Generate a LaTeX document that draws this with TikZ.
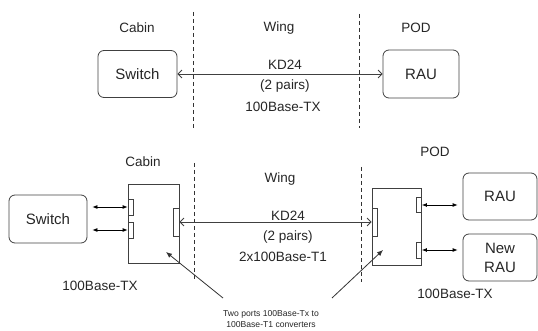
\documentclass[tikz,border=0pt]{standalone}
\usepackage{fontspec}
\setmainfont{Liberation Sans}
\usetikzlibrary{arrows.meta}

\begin{document}
\begin{tikzpicture}[x=1pt,y=-1pt,
    line width=0.8pt,
    lbl/.style={text=black!85,font=\fontsize{13.5}{16}\selectfont},
    unit/.style={draw=black!75,rounded corners=6pt,inner sep=0pt,text=black!85,
      align=center,font=\fontsize{15}{19}\selectfont},
    conv/.style={draw=black!75,inner sep=0pt},
    port/.style={draw=black!75,fill=white,inner sep=0pt,minimum width=5pt},
    sep/.style={black!80,dash pattern=on 4pt off 3pt},
    biglink/.style={black!75,{Straight Barb[length=4pt,width=8pt]}-{Straight Barb[length=4pt,width=8pt]}},
    shortlink/.style={black,{Latex[length=5pt,width=4pt]}-{Latex[length=5pt,width=4pt]}},
    ptr/.style={black!80,-{Latex[length=6pt,width=5pt]}}]
  \useasboundingbox (0,0) rectangle (538,331);
  % direct link
  \draw[sep] (193,12) -- (193,128);
  \draw[sep] (359,14) -- (359,128);
  \node[lbl] (cabinA) at (137,28) {Cabin};
  \node[lbl] (wingA) at (279,28) {Wing};
  \node[lbl] (podA) at (416,28) {POD};
  \node[unit,minimum width=79pt,minimum height=47pt] (swA) at (137.5,74) {Switch};
  \node[unit,minimum width=76pt,minimum height=48pt] (rauA) at (421,74) {RAU};
  \draw[biglink] (swA.east) -- (rauA.west);
  \node[lbl] (kdA) at (285,65) {KD24};
  \node[lbl] (pairA) at (285,86) {(2 pairs)};
  \node[lbl] (txA) at (283,107) {100Base-TX};
  % link through converters
  \draw[sep] (194,163) -- (194,281);
  \draw[sep] (361,167) -- (361,282);
  \node[lbl] (cabinB) at (143,162) {Cabin};
  \node[lbl] (wingB) at (280,179) {Wing};
  \node[lbl] (podB) at (435,152) {POD};
  \node[unit,minimum width=78pt,minimum height=48pt] (swB) at (48,219) {Switch};
  \node[conv,minimum width=51pt,minimum height=79pt] (cvA) at (153.5,223.5) {};
  \node[port,minimum height=16pt] (pa1) at (130.5,207) {};
  \node[port,minimum height=16pt] (pa2) at (130.5,230) {};
  \node[port,minimum width=6pt,minimum height=28pt] (pa3) at (176,222) {};
  \node[conv,minimum width=49pt,minimum height=77pt] (cvB) at (396.5,226.5) {};
  \node[port,minimum height=28pt] (pb1) at (374.5,222) {};
  \node[port,minimum height=15pt] (pb2) at (419,205) {};
  \node[port,minimum height=16pt] (pb3) at (419,250) {};
  \node[unit,minimum width=74pt,minimum height=47pt] (rauB) at (500,196.5) {RAU};
  \node[unit,minimum width=74pt,minimum height=47pt] (rauC) at (500,257.5) {New\\RAU};
  \draw[shortlink,shorten <=5pt] (pa1.west -| swB.east) -- (pa1.west);
  \draw[shortlink,shorten <=5pt] (pa2.west -| swB.east) -- (pa2.west);
  \draw[biglink] (pa3.east) -- (pb1.west);
  \draw[shortlink,shorten >=5pt] (pb2.east) -- (pb2.east -| rauB.west);
  \draw[shortlink,shorten >=5pt] (pb3.east) -- (pb3.east -| rauC.west);
  \node[lbl] (kdB) at (288,216) {KD24};
  \node[lbl] (pairB) at (288,237) {(2 pairs)};
  \node[lbl] (t1B) at (283,257) {2x100Base-T1};
  \node[lbl] (txB) at (100,286) {100Base-TX};
  \node[lbl] (txC) at (455,294) {100Base-TX};
  \node[align=center,text=black!85,font=\fontsize{8.6}{11}\selectfont] (note) at (271,319.5)
    {Two ports 100Base-Tx to\\100Base-T1 converters};
  \coordinate (noteL) at (223,298);
  \coordinate (noteR) at (332,298);
  \coordinate (cvAin) at (166,252);
  \coordinate (cvBin) at (383,250);
  \draw[ptr] (noteL) -- (cvAin);
  \draw[ptr] (noteR) -- (cvBin);
\end{tikzpicture}
\end{document}
